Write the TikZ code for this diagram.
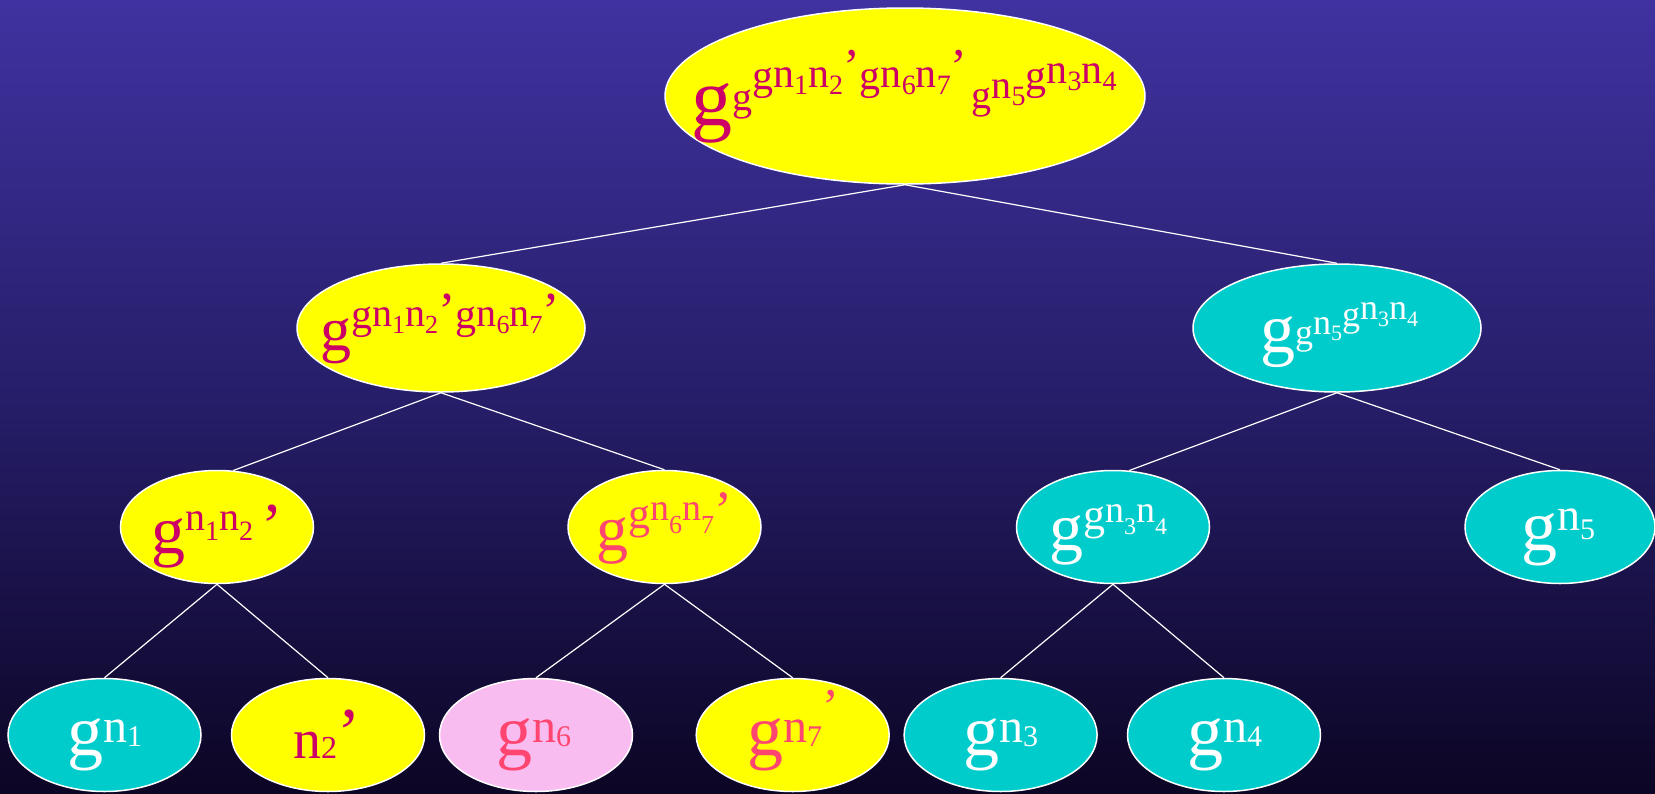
\documentclass[tikz,border=0pt]{standalone}
\usepackage{fontspec}
\setmainfont{Liberation Serif}
\usetikzlibrary{shapes.geometric}

\definecolor{bgtop}{RGB}{64,50,160}
\definecolor{bgmid}{RGB}{38,30,105}
\definecolor{bgbot}{RGB}{12,5,36}
\definecolor{keyyellow}{RGB}{255,255,0}
\definecolor{keycyan}{RGB}{0,204,204}
\definecolor{keypink}{RGB}{248,188,240}
\definecolor{txtmagenta}{RGB}{204,0,102}
\definecolor{txtrose}{RGB}{255,69,112}

% one piece of a nested exponent: size (pt), raise (pt), glyphs
\newcommand\pc[3]{\raisebox{#2pt}{\fontsize{#1pt}{#1pt}\selectfont #3}}

\begin{document}
\begin{tikzpicture}[x=1pt,y=-1pt,
  keynode/.style={ellipse, draw=white, line width=1.5pt, inner sep=0pt},
  rootsize/.style={minimum width=480pt, minimum height=176pt},
  midsize/.style={minimum width=288pt, minimum height=128pt},
  lowsize/.style={minimum width=193pt, minimum height=113pt},
  yel/.style={fill=keyyellow},
  cya/.style={fill=keycyan},
  pnk/.style={fill=keypink},
  lbl/.style={inner sep=0pt, anchor=base west},
  mag/.style={text=txtmagenta},
  wht/.style={text=white},
  rose/.style={text=txtrose},
  link/.style={draw=white, line width=1.2pt}]

% background
\useasboundingbox (0,0) rectangle (1655,793);
\shade[top color=bgtop, bottom color=bgbot, middle color=bgmid] (0,0) rectangle (1655,793);

% key ellipses
\node[keynode, rootsize, yel] (root) at (905,96) {};
\node[keynode, midsize, yel] (left) at (441,328) {};
\node[keynode, midsize, cya] (right) at (1337,328) {};
\node[keynode, lowsize, yel] (ka) at (217,527) {};
\node[keynode, lowsize, yel] (kb) at (664.5,527) {};
\node[keynode, lowsize, cya] (kc) at (1113,527) {};
\node[keynode, lowsize, cya, minimum width=190pt] (kd) at (1560,527) {};
\node[keynode, lowsize, cya] (l1) at (104.5,735) {};
\node[keynode, lowsize, yel] (l2) at (328,735) {};
\node[keynode, lowsize, pnk] (l3) at (536,735) {};
\node[keynode, lowsize, yel] (l4) at (792.7,735) {};
\node[keynode, lowsize, cya] (l5) at (1000.6,735) {};
\node[keynode, lowsize, cya] (l6) at (1224,735) {};

% tree links
\draw[link] (root.south) -- (left.north);
\draw[link] (root.south) -- (right.north);
\draw[link] (left.south) -- (ka.74);
\draw[link] (left.south) -- (kb.north);
\draw[link] (right.south) -- (kc.74);
\draw[link] (right.south) -- (kd.north);
\draw[link] (ka.south) -- (l1.north);
\draw[link] (ka.south) -- (l2.north);
\draw[link] (kb.south) -- (l3.north);
\draw[link] (kb.south) -- (l4.north);
\draw[link] (kc.south) -- (l5.north);
\draw[link] (kc.south) -- (l6.north);

% key expressions
\node[lbl, mag] (root-t) at (691,125) {\pc{82}{0}{g}\pc{40}{15}{g}\pc{42}{36}{g}\pc{42}{38}{n}\pc{28}{31}{1}\pc{42}{38}{n}\pc{28}{31}{2}\pc{50}{42}{’}\pc{42}{36}{g}\pc{42}{38}{n}\pc{28}{31}{6}\pc{42}{38}{n}\pc{28}{31}{7}\pc{50}{42}{’}\hspace{4pt}\pc{40}{17}{g}\pc{40}{27}{n}\pc{28}{20}{5}\pc{42}{36}{g}\pc{42}{42}{n}\pc{28}{35}{3}\pc{42}{42}{n}\pc{28}{35}{4}};

\node[lbl, mag] (left-t) at (320,350) {\pc{62}{0}{g}\pc{42}{22}{g}\pc{40}{24}{n}\pc{26}{17}{1}\pc{40}{24}{n}\pc{26}{17}{2}\pc{52}{22}{’}\pc{42}{22}{g}\pc{40}{24}{n}\pc{26}{17}{6}\pc{40}{24}{n}\pc{26}{17}{7}\pc{52}{22}{’}};

\node[lbl, wht] (right-t) at (1260,352) {\pc{70}{0}{g}\pc{36}{8}{g}\pc{36}{18}{n}\pc{22}{12}{5}\pc{36}{26}{g}\pc{36}{33}{n}\pc{22}{26}{3}\pc{36}{33}{n}\pc{22}{26}{4}};

\node[lbl, mag] (ka-t) at (151,553) {\pc{68}{0}{g}\pc{40}{23}{n}\pc{28}{13}{1}\pc{40}{23}{n}\pc{28}{13}{2}\hspace{8pt}\pc{64}{6}{’}};

\node[lbl, rose] (kb-t) at (596,550) {\pc{64}{0}{g}\pc{44}{22}{g}\pc{38}{30}{n}\pc{26}{17}{6}\pc{38}{30}{n}\pc{26}{17}{7}\pc{54}{22}{’}};

\node[lbl, wht] (kc-t) at (1049,550) {\pc{68}{0}{g}\pc{44}{21}{g}\pc{38}{28}{n}\pc{24}{16}{3}\pc{38}{28}{n}\pc{24}{16}{4}};

\node[lbl, wht] (kd-t) at (1521,550) {\pc{72}{0}{g}\pc{46}{20}{n}\pc{30}{11}{5}};

\node[lbl, wht] (l1-t) at (67,755) {\pc{72}{0}{g}\pc{48}{13}{n}\pc{30}{9}{1}};
\node[lbl, mag] (l2-t) at (293,758) {\pc{56}{0}{n}\pc{32}{0}{2}\pc{70}{2}{’}};
\node[lbl, rose] (l3-t) at (496,755) {\pc{72}{0}{g}\pc{48}{13}{n}\pc{30}{9}{6}};
\node[lbl, rose] (l4-t) at (747,755) {\pc{72}{0}{g}\pc{48}{13}{n}\pc{30}{9}{7}\pc{50}{32}{’}};
\node[lbl, wht] (l5-t) at (963,755) {\pc{72}{0}{g}\pc{48}{13}{n}\pc{30}{9}{3}};
\node[lbl, wht] (l6-t) at (1187,755) {\pc{72}{0}{g}\pc{48}{13}{n}\pc{30}{9}{4}};
\end{tikzpicture}
\end{document}
